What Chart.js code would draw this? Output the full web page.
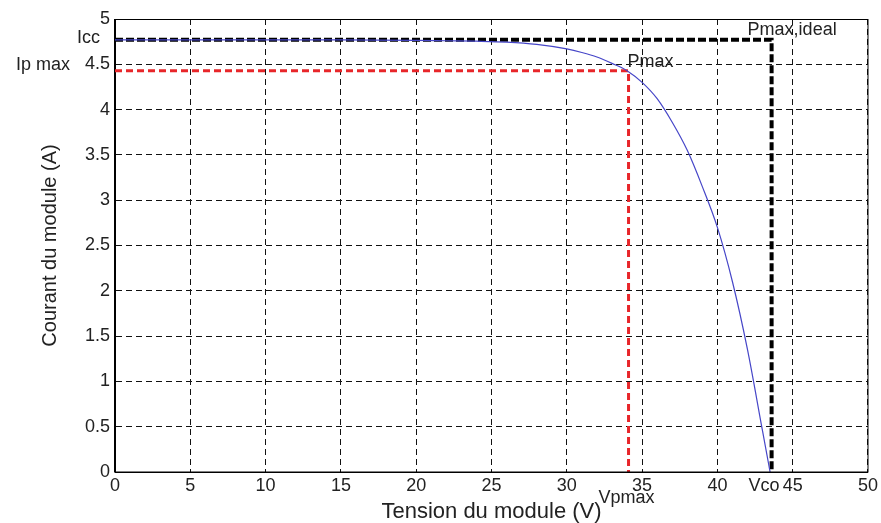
<!DOCTYPE html>
<html>
<head>
<meta charset="utf-8">
<script src="https://cdn.jsdelivr.net/npm/chart.js@4/dist/chart.umd.min.js"></script>
<style>
  body { margin: 0; background: #fff; }
</style>
</head>
<body>
<canvas id="ivCanvas" width="881" height="523"></canvas>
<script>
// courbe I(V) du module
const tensionV = [0, 5, 10, 15, 20, 22, 24, 26, 28, 30, 31, 32, 33, 34, 35, 36, 37, 38, 39, 40, 41, 42, 43, 43.5];
const courantA = [4.77, 4.77, 4.77, 4.77, 4.765, 4.76, 4.755, 4.745, 4.72, 4.67, 4.63, 4.58, 4.51, 4.43, 4.30, 4.12, 3.86, 3.55, 3.15, 2.70, 2.10, 1.35, 0.45, 0];

// points caractéristiques
const iccA = 4.77;
const ipMaxA = 4.43;
const vpMaxV = 34.1;
const vcoV = 43.6;

const FONT = '"Liberation Sans", Arial, sans-serif';

function init() {
    const ctx = document.getElementById('ivCanvas').getContext('2d');

    const courbe = tensionV.map((v, i) => ({ x: v, y: courantA[i] }));
    const ideal = [{ x: 0, y: iccA }, { x: vcoV, y: iccA }, { x: vcoV, y: 0 }];
    const reel = [{ x: 0, y: ipMaxA }, { x: vpMaxV, y: ipMaxA }, { x: vpMaxV, y: 0 }];

    const textes = {
        id: 'textes',
        afterDraw(chart) {
            const { ctx, chartArea: a, scales: { x, y } } = chart;
            ctx.save();
            // cadre
            ctx.strokeStyle = '#000';
            ctx.lineWidth = 1;
            ctx.strokeRect(Math.round(a.left) - 0.5, Math.round(a.top) + 0.5,
                Math.round(a.right - a.left) + 0.5, Math.round(a.bottom - a.top) - 0.5);

            ctx.font = '18px ' + FONT;
            ctx.fillStyle = '#222';
            ctx.textBaseline = 'middle';
            const xVco = x.getPixelForValue(vcoV);
            const xVp = x.getPixelForValue(vpMaxV);
            const yIcc = y.getPixelForValue(iccA);
            const yIp = y.getPixelForValue(ipMaxA);

            ctx.textAlign = 'right';
            ctx.fillText('Icc', a.left - 15, yIcc - 2);
            ctx.fillText('Ip max', a.left - 45, yIp - 6);
            ctx.fillText('Vco', xVco + 8, a.bottom + 14);

            ctx.textAlign = 'left';
            ctx.fillText('Pmax,ideal', xVco - 24, yIcc - 10);
            ctx.fillText('Pmax', xVp - 1, yIp - 9);

            ctx.textAlign = 'center';
            ctx.fillText('Vpmax', xVp - 2, a.bottom + 26);
            ctx.restore();
        }
    };

    new Chart(ctx, {
        type: 'scatter',
        data: {
            datasets: [
                {
                    label: 'I(V)',
                    data: courbe,
                    showLine: true,
                    borderColor: 'rgb(70,70,200)',
                    borderWidth: 1.2,
                    pointRadius: 0,
                    cubicInterpolationMode: 'monotone'
                },
                {
                    label: 'ideal',
                    data: ideal,
                    showLine: true,
                    borderColor: '#000',
                    borderWidth: 4,
                    borderDash: [8, 3],
                    pointRadius: 0
                },
                {
                    label: 'Pmax',
                    data: reel,
                    showLine: true,
                    borderColor: '#e8262a',
                    borderWidth: 3,
                    borderDash: [7, 4],
                    pointRadius: 0
                }
            ]
        },
        options: {
            responsive: false,
            animation: false,
            layout: { padding: { top: 19, right: 12, left: 0, bottom: 0 } },
            plugins: {
                legend: { display: false },
                tooltip: { enabled: false }
            },
            scales: {
                x: {
                    type: 'linear',
                    min: 0, max: 50,
                    afterFit(s) { s.height = 51; },
                    grid: { color: '#111', lineWidth: 1, drawTicks: false },
                    border: { color: '#000', width: 1, dash: [6, 4] },
                    ticks: {
                        stepSize: 5, autoSkip: false, maxRotation: 0, padding: 3,
                        color: '#222', font: { family: FONT, size: 18 },
                        callback: v => String(v)
                    },
                    title: {
                        display: true, text: 'Tension du module (V)', color: '#222',
                        font: { family: FONT, size: 22, lineHeight: 1 },
                        padding: { top: 0, bottom: 0 }
                    }
                },
                y: {
                    type: 'linear',
                    min: 0, max: 5,
                    afterFit(s) { s.width = 115; },
                    grid: { color: '#111', lineWidth: 1, drawTicks: false },
                    border: { color: '#000', width: 1, dash: [6, 4] },
                    ticks: {
                        stepSize: 0.5, autoSkip: false, padding: 5,
                        color: '#222', font: { family: FONT, size: 18 },
                        callback: v => String(v)
                    },
                    title: {
                        display: true, text: 'Courant du module (A)', color: '#222',
                        font: { family: FONT, size: 20, lineHeight: 1 },
                        padding: { top: 40, bottom: 0 }
                    }
                }
            }
        },
        plugins: [textes]
    });
}

if (typeof Chart !== 'undefined') {
    init();
} else {
    window.addEventListener('load', init);
}
</script>
</body>
</html>
